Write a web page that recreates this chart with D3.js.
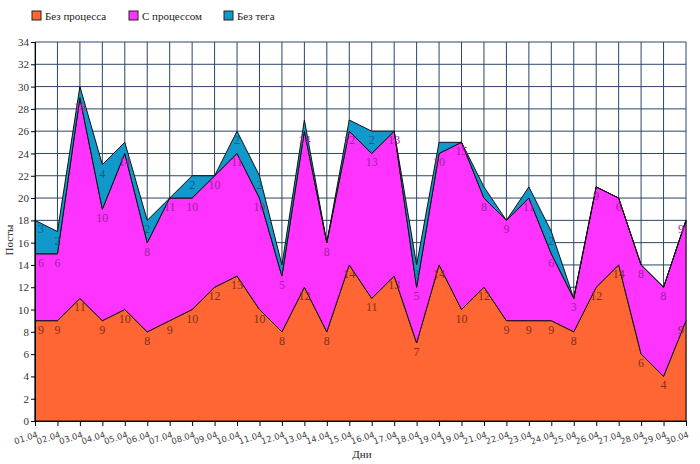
<!DOCTYPE html>
<html>
<head>
<meta charset="utf-8">
<script src="https://cdn.jsdelivr.net/npm/d3@7"></script>
<style>
  html, body { margin: 0; padding: 0; background: #fff; }
  svg { display: block; }
  svg text.serif { font-family: "Liberation Serif", "Times New Roman", Times, "DejaVu Serif", serif !important; }
  svg text.sans { font-family: "DejaVu Sans", Verdana, sans-serif !important; }
</style>
</head>
<body>
<svg id="chart" width="700" height="464"></svg>
<script>
const days = ["01.04","02.04","03.04","04.04","05.04","06.04","07.04","08.04","09.04","10.04",
              "11.04","12.04","13.04","14.04","15.04","16.04","17.04","18.04","19.04","19.04",
              "21.04","22.04","23.04","24.04","25.04","26.04","27.04","28.04","29.04","30.04"];
const noProcess   = [9,9,11,9,10,8,9,10,12,13,10,8,12,8,14,11,13,7,14,10,12,9,9,9,8,12,14,6,4,9];
const withProcess = [6,6,18,10,14,8,11,10,10,11,10,5,14,8,12,13,13,5,10,15,8,9,11,6,3,9,6,8,8,9];
const noTag       = [3,2,1,4,1,2,0,2,0,2,2,1,1,0,1,2,0,2,1,0,1,0,1,2,0,0,0,0,0,0];
const seriesNames = ["Без процесса", "С процессом", "Без тега"];
const seriesColors = ["#ff6633", "#ff33ff", "#1199cc"];
const yTicks = d3.range(0, 35, 2);

const W = 700, H = 464;
const m = {left: 35, right: 14, top: 42, bottom: 43};
const svg = d3.select("#chart");

const table = days.map((d, i) => ({i: i, s0: noProcess[i], s1: withProcess[i], s2: noTag[i]}));
const stack = d3.stack().keys(["s0", "s1", "s2"]);
const layers = stack(table);

const x = d3.scaleLinear().domain([0, days.length - 1]).range([m.left, W - m.right]);
const y = d3.scaleLinear().domain([0, 34]).range([H - m.bottom, m.top]);

// grid
const g = svg.append("g");
g.selectAll("line.h").data(yTicks).join("line")
  .attr("x1", m.left).attr("x2", W - m.right)
  .attr("y1", d => y(d)).attr("y2", d => y(d))
  .attr("stroke", "#2a4668").attr("stroke-width", 1);
g.selectAll("line.v").data(days.map((d, i) => i)).join("line")
  .attr("x1", d => x(d)).attr("x2", d => x(d))
  .attr("y1", y(0)).attr("y2", y(34))
  .attr("stroke", "#2a4668").attr("stroke-width", 1);

// areas
const area = d3.area().x(d => x(d.data.i)).y0(d => y(d[0])).y1(d => y(d[1]));
svg.append("g").selectAll("path").data(layers).join("path")
  .attr("d", area)
  .attr("fill", (d, i) => seriesColors[i])
  .attr("stroke", "#111").attr("stroke-width", 1).attr("stroke-linejoin", "round");

// value labels
const lab = svg.append("g").attr("font-size", 12).attr("text-anchor", "middle");
layers.forEach((layer, li) => {
  const col = d3.color(seriesColors[li]).darker(li === 0 ? 2 : 1.3).formatHex();
  layer.forEach(d => {
    const v = d[1] - d[0];
    if (v <= 1) return;
    const px = Math.max(m.left + 6, Math.min(W - m.right - 5, x(d.data.i)));
    lab.append("text").attr("class", "serif").attr("x", px).attr("y", y(d[1]) + 13).attr("fill", col).text(v);
  });
});

// axes
const yAxis = d3.axisLeft(y).tickValues(yTicks).tickSize(4).tickPadding(2);
const ya = svg.append("g").attr("transform", `translate(${m.left},0)`).call(yAxis);
ya.attr("font-family", null);
ya.select(".domain").attr("stroke", "#000");
ya.selectAll("text").attr("class", "serif").attr("font-size", 11).attr("fill", "#333");

const xAxis = d3.axisBottom(x).tickValues(days.map((d, i) => i)).tickFormat(i => days[i]).tickSize(5);
const xa = svg.append("g").attr("transform", `translate(0,${H - m.bottom})`).call(xAxis);
xa.attr("font-family", null);
xa.select(".domain").attr("stroke", "#000");
xa.selectAll("text")
  .attr("class", "sans").attr("font-size", 8.5).attr("fill", "#444")
  .attr("text-anchor", "end").attr("dy", null).attr("y", null)
  .attr("transform", "translate(3,16) rotate(-18)");

// axis titles
svg.append("text").attr("x", 362).attr("y", 458).attr("text-anchor", "middle")
  .attr("class", "serif").attr("font-size", 11).attr("fill", "#222").text("Дни");
svg.append("text").attr("transform", "translate(13,240) rotate(-90)").attr("text-anchor", "middle")
  .attr("class", "serif").attr("font-size", 11).attr("fill", "#222").text("Посты");

// legend
const legX = [32, 129, 224];
const leg = svg.append("g");
seriesNames.forEach((n, i) => {
  leg.append("rect").attr("x", legX[i]).attr("y", 11).attr("width", 9).attr("height", 9)
    .attr("fill", seriesColors[i]).attr("stroke", "#222").attr("stroke-width", 1);
  leg.append("text").attr("x", legX[i] + 13).attr("y", 19.5)
    .attr("class", "serif").attr("font-size", 11).attr("fill", "#222").text(n);
});
</script>
</body>
</html>
